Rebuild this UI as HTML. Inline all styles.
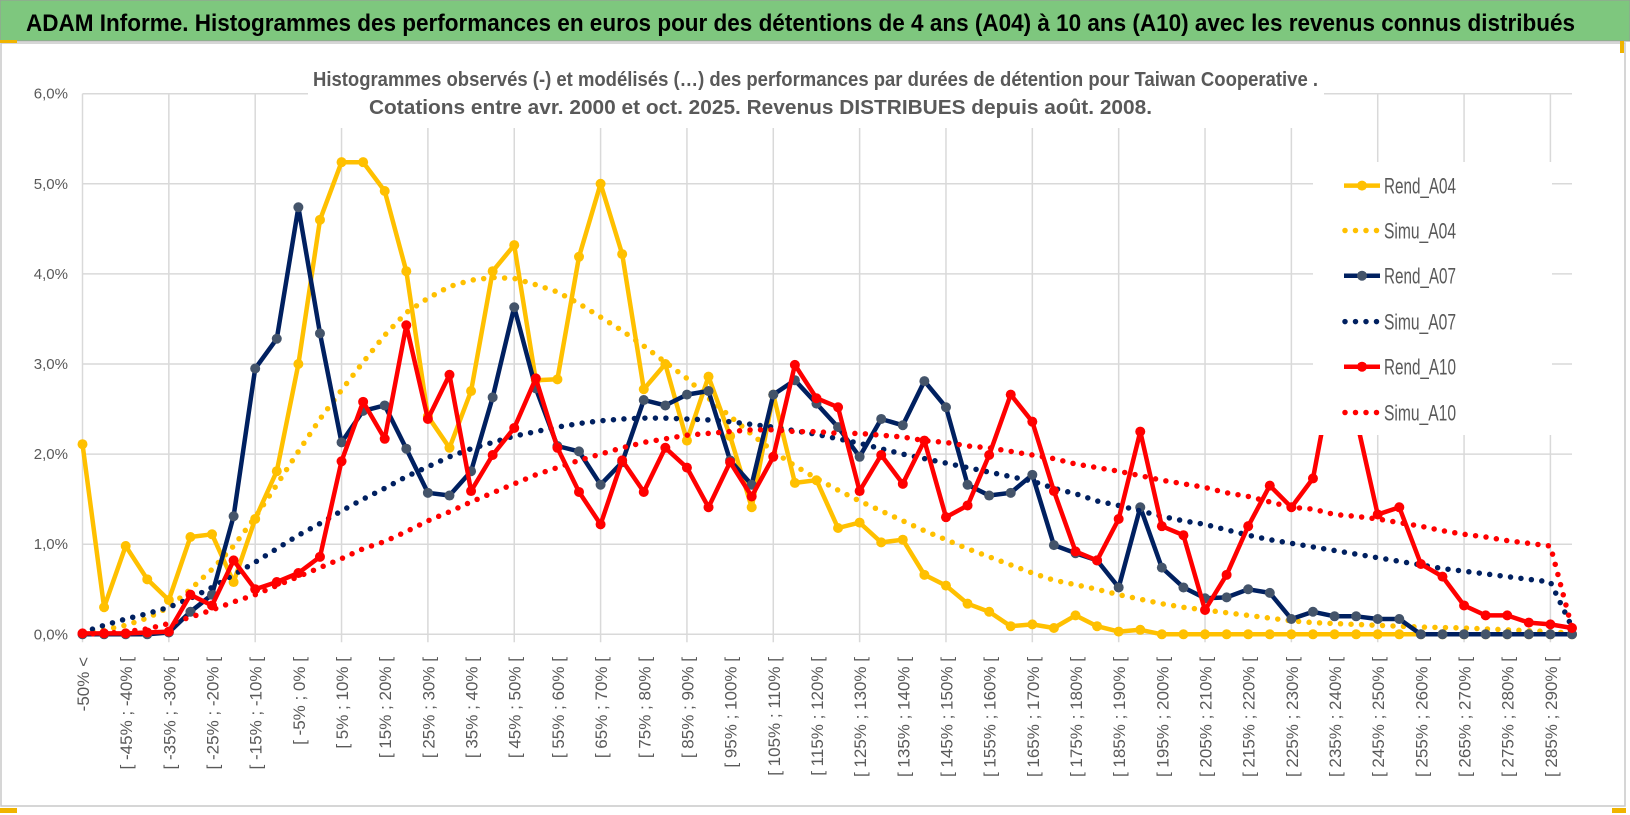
<!DOCTYPE html>
<html><head><meta charset="utf-8"><style>
html,body{margin:0;padding:0;background:#fff;}
svg{display:block;font-family:"Liberation Sans",sans-serif;}
</style></head><body>
<svg id="chart" width="1630" height="815" viewBox="0 0 1630 815" xmlns="http://www.w3.org/2000/svg">
<rect x="0" y="0" width="1630" height="815" fill="#fff"/>
<rect x="1" y="43" width="1624" height="763" fill="#fff" stroke="#c8c8c8" stroke-width="1.5"/>
<rect x="0" y="0" width="1630" height="41" fill="#7ec77e" stroke="#9a9a9a" stroke-width="1"/>
<rect x="0" y="40" width="17" height="3" fill="#f0b400"/>
<rect x="0" y="808" width="17" height="5" fill="#f0b400"/>
<rect x="1620" y="41" width="4" height="12" fill="#f0b400"/>
<rect x="1612" y="808" width="14" height="5" fill="#f0b400"/>
<text x="26" y="31" font-size="24" font-weight="bold" fill="#000" textLength="1549" lengthAdjust="spacingAndGlyphs">ADAM Informe. Histogrammes des performances en euros pour des détentions de 4 ans (A04) à 10 ans (A10) avec les revenus connus distribués</text>
<g id="grid"></g>
<g id="yaxis"></g>
<g id="xaxis"></g>
<g id="series"></g>
<rect x="308" y="58" width="1016" height="70" fill="#fff"/>
<text x="313" y="86" font-size="20" font-weight="bold" fill="#595959" textLength="1005" lengthAdjust="spacingAndGlyphs">Histogrammes observés (-) et modélisés (…) des performances par durées de détention pour Taiwan Cooperative .</text>
<text x="369" y="114" font-size="20" font-weight="bold" fill="#595959" textLength="783" lengthAdjust="spacingAndGlyphs">Cotations entre avr. 2000 et oct. 2025. Revenus DISTRIBUES depuis août. 2008.</text>
<g id="legend"></g>
</svg>
<script>
const categories = ["-50% <","[ -50% ; -45% [","[ -45% ; -40% [","[ -40% ; -35% [","[ -35% ; -30% [","[ -30% ; -25% [","[ -25% ; -20% [","[ -20% ; -15% [","[ -15% ; -10% [","[ -10% ; -5% [",
"[ -5% ; 0% [","[ 0% ; 5% [","[ 5% ; 10% [","[ 10% ; 15% [","[ 15% ; 20% [","[ 20% ; 25% [","[ 25% ; 30% [","[ 30% ; 35% [","[ 35% ; 40% [","[ 40% ; 45% [",
"[ 45% ; 50% [","[ 50% ; 55% [","[ 55% ; 60% [","[ 60% ; 65% [","[ 65% ; 70% [","[ 70% ; 75% [","[ 75% ; 80% [","[ 80% ; 85% [","[ 85% ; 90% [","[ 90% ; 95% [",
"[ 95% ; 100% [","[ 100% ; 105% [","[ 105% ; 110% [","[ 110% ; 115% [","[ 115% ; 120% [","[ 120% ; 125% [","[ 125% ; 130% [","[ 130% ; 135% [","[ 135% ; 140% [","[ 140% ; 145% [",
"[ 145% ; 150% [","[ 150% ; 155% [","[ 155% ; 160% [","[ 160% ; 165% [","[ 165% ; 170% [","[ 170% ; 175% [","[ 175% ; 180% [","[ 180% ; 185% [","[ 185% ; 190% [","[ 190% ; 195% [",
"[ 195% ; 200% [","[ 200% ; 205% [","[ 205% ; 210% [","[ 210% ; 215% [","[ 215% ; 220% [","[ 220% ; 225% [","[ 225% ; 230% [","[ 230% ; 235% [","[ 235% ; 240% [","[ 240% ; 245% [",
"[ 245% ; 250% [","[ 250% ; 255% [","[ 255% ; 260% [","[ 260% ; 265% [","[ 265% ; 270% [","[ 270% ; 275% [","[ 275% ; 280% [","[ 280% ; 285% [","[ 285% ; 290% [","[ 290% ; 295% ["];
const yTicks = [0,1,2,3,4,5,6];
const yTickLabels = ["0,0%","1,0%","2,0%","3,0%","4,0%","5,0%","6,0%"];
const rendA04 = [2.11,0.30,0.98,0.61,0.38,1.08,1.11,0.58,1.28,1.81,3.00,4.60,5.24,5.24,4.92,4.03,2.42,2.07,2.70,4.03,4.32,2.82,2.83,4.19,5.00,4.22,2.72,3.00,2.15,2.86,2.20,1.41,2.66,1.68,1.71,1.18,1.24,1.02,1.05,0.66,0.54,0.34,0.25,0.09,0.11,0.07,0.21,0.09,0.03,0.05,0,0,0,0,0,0,0,0,0,0,0,0,0,0,0,0,0,0,0,0];
const simuA04 = [0.02,0.05,0.10,0.18,0.30,0.50,0.72,0.98,1.30,1.66,2.03,2.39,2.71,3.02,3.32,3.57,3.73,3.86,3.93,3.96,3.95,3.88,3.80,3.67,3.52,3.37,3.20,3.02,2.84,2.62,2.42,2.22,2.03,1.87,1.73,1.60,1.48,1.37,1.26,1.15,1.05,0.95,0.86,0.77,0.68,0.60,0.55,0.50,0.44,0.39,0.34,0.30,0.27,0.24,0.21,0.18,0.15,0.13,0.12,0.11,0.10,0.09,0.08,0.075,0.07,0.06,0.05,0.04,0.03,0.01];
const rendA07 = [0,0,0,0,0.02,0.25,0.44,1.31,2.95,3.28,4.74,3.34,2.13,2.48,2.54,2.06,1.57,1.54,1.81,2.63,3.63,2.73,2.09,2.03,1.66,1.91,2.60,2.54,2.66,2.70,1.93,1.66,2.66,2.82,2.56,2.30,1.97,2.39,2.32,2.81,2.52,1.66,1.54,1.57,1.77,0.99,0.90,0.82,0.52,1.41,0.74,0.52,0.40,0.41,0.50,0.46,0.17,0.25,0.20,0.20,0.17,0.17,0,0,0,0,0,0,0,0];
const simuA07 = [0.02,0.10,0.17,0.23,0.30,0.40,0.52,0.66,0.80,0.95,1.10,1.23,1.37,1.50,1.62,1.75,1.86,1.97,2.06,2.13,2.20,2.25,2.30,2.34,2.37,2.39,2.40,2.40,2.39,2.38,2.36,2.33,2.30,2.26,2.22,2.17,2.12,2.06,2.00,1.95,1.90,1.85,1.80,1.75,1.70,1.62,1.56,1.48,1.43,1.37,1.31,1.26,1.22,1.16,1.10,1.05,1.01,0.97,0.93,0.89,0.85,0.81,0.77,0.73,0.70,0.67,0.64,0.61,0.58,0.08];
const rendA10 = [0.01,0.01,0.01,0.02,0.03,0.44,0.32,0.82,0.50,0.58,0.68,0.86,1.92,2.58,2.17,3.43,2.39,2.88,1.59,1.99,2.29,2.84,2.07,1.58,1.22,1.93,1.58,2.07,1.85,1.41,1.91,1.53,1.97,2.99,2.62,2.52,1.59,1.99,1.67,2.15,1.30,1.43,1.99,2.66,2.36,1.59,0.92,0.82,1.28,2.25,1.20,1.10,0.27,0.66,1.20,1.65,1.41,1.73,3.00,2.40,1.33,1.41,0.78,0.64,0.32,0.21,0.21,0.13,0.11,0.07];
const simuA10 = [0,0.01,0.03,0.06,0.12,0.19,0.27,0.36,0.44,0.54,0.64,0.74,0.84,0.95,1.03,1.14,1.26,1.36,1.47,1.57,1.67,1.77,1.85,1.93,2.00,2.07,2.13,2.17,2.21,2.23,2.25,2.27,2.27,2.25,2.25,2.23,2.23,2.21,2.19,2.15,2.13,2.09,2.07,2.03,1.99,1.95,1.89,1.85,1.81,1.76,1.71,1.67,1.63,1.57,1.53,1.47,1.41,1.39,1.33,1.31,1.28,1.24,1.20,1.15,1.11,1.08,1.04,1.01,0.98,0.07];
const seriesNames = ["Rend_A04","Simu_A04","Rend_A07","Simu_A07","Rend_A10","Simu_A10"];

const NS = "http://www.w3.org/2000/svg";
const X0 = 82.5, X1 = 1572, Y0 = 634.3, YMAXPX = 93.7, YMAX = 6;
function xScale(i){ return X0 + (X1 - X0) * i / (categories.length - 1); }
function yScale(v){ return Y0 - (Y0 - YMAXPX) * v / YMAX; }
function mk(tag, attrs, parent){ const e = document.createElementNS(NS, tag); for (const k in attrs) e.setAttribute(k, attrs[k]); parent.appendChild(e); return e; }

const grid = document.getElementById('grid');
yTicks.forEach(function(t){
  const l = mk('line', {x1: X0, x2: X1, y1: yScale(t), y2: yScale(t), stroke: '#d9d9d9', 'stroke-width': 1.5}, grid);
  
  
});
for (let i = 0; i < categories.length; i += 4) {
  const l = mk('line', {x1: xScale(i), x2: xScale(i), y1: yScale(6), y2: yScale(0) + 8, stroke: '#d9d9d9', 'stroke-width': 1.5}, grid);
  
  
}

const yaxis = document.getElementById('yaxis');
yTicks.forEach(function(t, i){
  const tx = mk('text', {x: 68, y: yScale(t) + 5, 'text-anchor': 'end', 'font-size': 15, fill: '#595959'}, yaxis);
  tx.textContent = yTickLabels[i];
  
  
});

const xaxis = document.getElementById('xaxis');
for (let i = 0; i < categories.length; i += 2) {
  const x = xScale(i) + 1, y = 657;
  const tx = mk('text', {x: x, y: y, transform: 'rotate(-90 ' + x + ' ' + y + ')', 'text-anchor': 'end', 'dominant-baseline': 'central', 'font-size': 17, fill: '#595959'}, xaxis);
  tx.textContent = categories[i];
  
  
}

const sg = document.getElementById('series');
function drawSolid(vals, color, markerFill, name){
  const g = mk('g', {}, sg);
  
  
  const pts = vals.map(function(v, i){ return xScale(i).toFixed(1) + ',' + yScale(v).toFixed(1); }).join(' ');
  const pl = mk('polyline', {points: pts, fill: 'none', stroke: color, 'stroke-width': 4.5, 'stroke-linejoin': 'round'}, g);
  
  
  vals.forEach(function(v, i){
    const c = mk('circle', {cx: xScale(i), cy: yScale(v), r: 5, fill: markerFill}, g);
    
    
  });
}
function drawDotted(vals, color, name){
  const pts = vals.map(function(v, i){ return xScale(i).toFixed(1) + ',' + yScale(v).toFixed(1); }).join(' ');
  const pl = mk('polyline', {points: pts, fill: 'none', stroke: color, 'stroke-width': 5.5, 'stroke-linecap': 'round', 'stroke-dasharray': '0 10.5'}, sg);
  
  
}
drawSolid(rendA04, '#ffc000', '#ffc000', 'rend-a04');
drawDotted(simuA04, '#ffc000', 'simu-a04');
drawSolid(rendA07, '#002060', '#44546a', 'rend-a07');
drawDotted(simuA07, '#002060', 'simu-a07');
drawSolid(rendA10, '#ff0000', '#ff0000', 'rend-a10');
drawDotted(simuA10, '#ff0000', 'simu-a10');

const lg = document.getElementById('legend');
const lb = mk('rect', {x: 1313, y: 162, width: 239, height: 273, fill: '#fff'}, lg);


const legColors = ['#ffc000','#ffc000','#002060','#002060','#ff0000','#ff0000'];
const legMarkers = ['#ffc000','#ffc000','#44546a','#44546a','#ff0000','#ff0000'];
const legY = [185.6, 230.5, 275.7, 321.6, 366.7, 412.5];
seriesNames.forEach(function(n, i){
  const y = legY[i];
  const g = mk('g', {}, lg);
  
  
  if (i % 2 === 0) {
    mk('line', {x1: 1344, x2: 1380, y1: y, y2: y, stroke: legColors[i], 'stroke-width': 4.5}, g);
    mk('circle', {cx: 1362, cy: y, r: 5, fill: legMarkers[i]}, g);
  } else {
    mk('line', {x1: 1345, x2: 1380, y1: y, y2: y, stroke: legColors[i], 'stroke-width': 5.5, 'stroke-linecap': 'round', 'stroke-dasharray': '0 10.5'}, g);
  }
  const t = mk('text', {x: 1384, y: y + 8, 'font-size': 22, fill: '#595959', textLength: 72, lengthAdjust: 'spacingAndGlyphs'}, g);
  t.textContent = n;
});
</script>
</body></html>
